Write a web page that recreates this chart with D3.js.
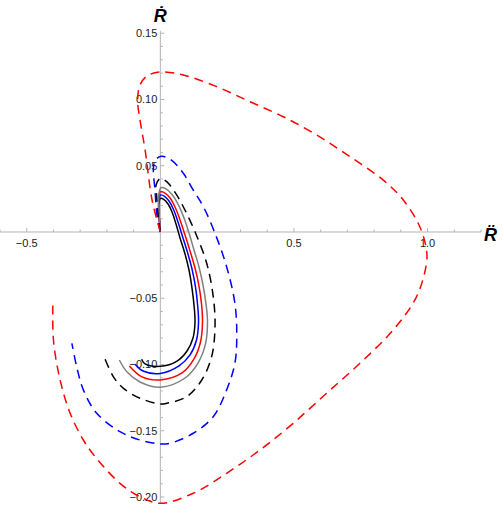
<!DOCTYPE html>
<html>
<head>
<meta charset="utf-8">
<script src="https://cdn.jsdelivr.net/npm/d3@7"></script>
<style>
  html, body { margin: 0; padding: 0; background: #fff; }
  svg { display: block; font-family: "Liberation Sans", Arial, sans-serif; }
</style>
</head>
<body>
<div id="chart"></div>
<script>
// phase curves, [R̈, Ṙ] pairs
const redDashed = [
  [0, 0], [-0.031, 0.0242], [-0.057, 0.0619], [-0.076, 0.0845], [-0.085, 0.0996], [-0.076, 0.111],
  [-0.05, 0.1177], [0, 0.1208], [0.086, 0.1185], [0.211, 0.1097], [0.336, 0.0983],
  [0.46, 0.087], [0.585, 0.0732], [0.71, 0.0568], [0.834, 0.0392], [0.909, 0.0242], [0.971, 0.004],
  [0.996, -0.0136], [0.996, -0.0236], [0.959, -0.0488], [0.871, -0.074], [0.747, -0.0991],
  [0.622, -0.1217], [0.497, -0.1444], [0.373, -0.1645], [0.248, -0.1821], [0.123, -0.1972],
  [0, -0.2048], [-0.076, -0.1998], [-0.151, -0.1897], [-0.244, -0.1696], [-0.288, -0.157],
  [-0.338, -0.1366], [-0.375, -0.1117], [-0.400, -0.0815], [-0.402, -0.0534]
];
const blueDashed = [
  [0, 0], [-0.012, 0.0115], [-0.02, 0.0317], [-0.026, 0.0468], [-0.02, 0.0536], [0, 0.057],
  [0.036, 0.0551], [0.086, 0.0443], [0.123, 0.0317], [0.161, 0.0191], [0.2046, -0.001],
  [0.248, -0.0262], [0.279, -0.0538], [0.286, -0.079], [0.279, -0.0991], [0.248, -0.1192],
  [0.198, -0.1394], [0.123, -0.1519], [0.036, -0.1595], [0, -0.16], [-0.076, -0.157],
  [-0.151, -0.1507], [-0.238, -0.1368], [-0.288, -0.1192], [-0.313, -0.1017], [-0.331, -0.084]
];
const blackDashed = [
  [0, 0], [-0.0105, 0.0166], [-0.014, 0.0279], [-0.016, 0.0355], [0, 0.0404], [0.024, 0.038],
  [0.061, 0.028], [0.092, 0.0166], [0.13, 0], [0.1735, -0.0236], [0.198, -0.0488],
  [0.2046, -0.0715], [0.192, -0.0941], [0.155, -0.1117], [0.0987, -0.1243], [0.024, -0.1293],
  [0, -0.1298], [-0.076, -0.1255], [-0.138, -0.118], [-0.176, -0.1092], [-0.213, -0.0928]
];
const graySolid = [
  [0, 0], [-0.005, 0.016], [-0.006, 0.028], [0.0026, 0.0334], [0.0213, 0.0325], [0.0438, 0.0283],
  [0.0662, 0.0211], [0.0886, 0.0106], [0.1073, -0.0008], [0.126, -0.0136], [0.1447, -0.0264],
  [0.1597, -0.04], [0.1709, -0.0543], [0.1765, -0.0679], [0.169, -0.0845], [0.141, -0.0989],
  [0.0924, -0.1102], [0, -0.1172], [-0.0759, -0.1132], [-0.1245, -0.1057], [-0.1533, -0.0966]
];
const redSolid = [
  [0, 0], [-0.005, 0.015], [-0.006, 0.025], [0.0007, 0.0304], [0.0176, 0.0294], [0.0363, 0.0257],
  [0.055, 0.0189], [0.0737, 0.0091], [0.0924, -0.0023], [0.1111, -0.0143], [0.1298, -0.0272],
  [0.1447, -0.0408], [0.1541, -0.0543], [0.1578, -0.0679], [0.1503, -0.083], [0.126, -0.0958],
  [0.0812, -0.1064], [0, -0.1117], [-0.0684, -0.1094], [-0.1159, -0.1011]
];
const blueSolid = [
  [0, 0], [-0.005, 0.014], [-0.006, 0.022], [0.0007, 0.0279], [0.0157, 0.0269], [0.0325, 0.0234],
  [0.0494, 0.017], [0.0662, 0.0075], [0.083, -0.0034], [0.1017, -0.0155], [0.1185, -0.0279],
  [0.1316, -0.0415], [0.1391, -0.0543], [0.1429, -0.0679], [0.1354, -0.0815], [0.1111, -0.0928],
  [0.0699, -0.1011], [0, -0.1068], [-0.0647, -0.1049], [-0.0946, -0.0998]
];
const blackSolid = [
  [0, 0], [-0.005, 0.0128], [-0.006, 0.0204], [0.0007, 0.0254], [0.0138, 0.0245], [0.0288, 0.0211],
  [0.0438, 0.0151], [0.0587, 0.006], [0.0737, -0.0045], [0.0924, -0.0166], [0.1073, -0.0287],
  [0.1185, -0.0423], [0.126, -0.0551], [0.1297, -0.0679], [0.1223, -0.08], [0.0999, -0.0898],
  [0.0625, -0.0974], [0, -0.1014], [-0.057, -0.0996], [-0.07, -0.096]
];

const xTickLabels = [-0.5, 0.5, 1.0];
const yTickLabels = [-0.20, -0.15, -0.10, -0.05, 0.05, 0.10, 0.15];
const xLabel = "R\u0308";
const yLabel = "\u1E58";

const width = 503, height = 513;
const svg = d3.select("#chart").append("svg")
  .attr("width", width).attr("height", height);

const x = d3.scaleLinear().domain([-0.6, 1.2]).range([0, 481]);
const y = d3.scaleLinear().domain([-0.205, 0.152]).range([503.6, 30.6]);

const axisColor = "#b3b3b3";
const ax = svg.append("g");

// axes through origin
ax.append("line").attr("x1", x(-0.6)).attr("x2", x(1.2)).attr("y1", y(0)).attr("y2", y(0))
  .attr("stroke", axisColor).attr("stroke-width", 1);
ax.append("line").attr("x1", x(0)).attr("x2", x(0)).attr("y1", y(-0.205)).attr("y2", y(0.152))
  .attr("stroke", axisColor).attr("stroke-width", 1);

// minor + major ticks
const xMinor = d3.range(-6, 13).map(i => i / 10).filter(v => Math.abs(v) > 1e-9);
ax.selectAll(".xt").data(xMinor).enter().append("line")
  .attr("x1", d => x(d)).attr("x2", d => x(d))
  .attr("y1", y(0)).attr("y2", d => y(0) - (xTickLabels.some(t => Math.abs(t - d) < 1e-9) ? 4 : 2.5))
  .attr("stroke", axisColor);
const yMinor = d3.range(-20, 16).map(i => i / 100).filter(v => Math.abs(v) > 1e-9);
ax.selectAll(".yt").data(yMinor).enter().append("line")
  .attr("y1", d => y(d)).attr("y2", d => y(d))
  .attr("x1", x(0)).attr("x2", d => x(0) + (yTickLabels.some(t => Math.abs(t - d) < 1e-9) ? 4 : 2.5))
  .attr("stroke", axisColor);

ax.selectAll(".xl").data(xTickLabels).enter().append("text")
  .attr("x", d => x(d)).attr("y", y(0) + 15)
  .attr("text-anchor", "middle").attr("font-size", 11).attr("fill", "#222")
  .text(d => d3.format(".1f")(d).replace("-", "\u2212"));
ax.selectAll(".yl").data(yTickLabels).enter().append("text")
  .attr("x", x(0) - 3).attr("y", d => y(d) + 4)
  .attr("text-anchor", "end").attr("font-size", 11).attr("fill", "#222")
  .text(d => d3.format(".2f")(d).replace("-", "\u2212"));

svg.append("text").attr("x", 484).attr("y", 241)
  .attr("font-size", 18).attr("font-weight", "bold").attr("font-style", "italic")
  .text(xLabel);
svg.append("text").attr("x", x(0)).attr("y", 22).attr("text-anchor", "middle")
  .attr("font-size", 18).attr("font-weight", "bold").attr("font-style", "italic")
  .text(yLabel);

const line = d3.line().x(d => x(d[0])).y(d => y(d[1])).curve(d3.curveCatmullRom.alpha(0.5));

const curves = [
  { pts: blackSolid, color: "#000000", dash: null },
  { pts: blueSolid, color: "#0000ff", dash: null },
  { pts: redSolid, color: "#ff0000", dash: null },
  { pts: graySolid, color: "#808080", dash: null },
  { pts: blackDashed, color: "#000000", dash: "9,6" },
  { pts: blueDashed, color: "#0000ff", dash: "9,6" },
  { pts: redDashed, color: "#ff0000", dash: "9,6" }
];

svg.append("g").selectAll("path").data(curves).enter().append("path")
  .attr("d", d => line(d.pts))
  .attr("fill", "none")
  .attr("stroke", d => d.color)
  .attr("stroke-width", 1.5)
  .attr("stroke-dasharray", d => d.dash);
</script>
</body>
</html>
